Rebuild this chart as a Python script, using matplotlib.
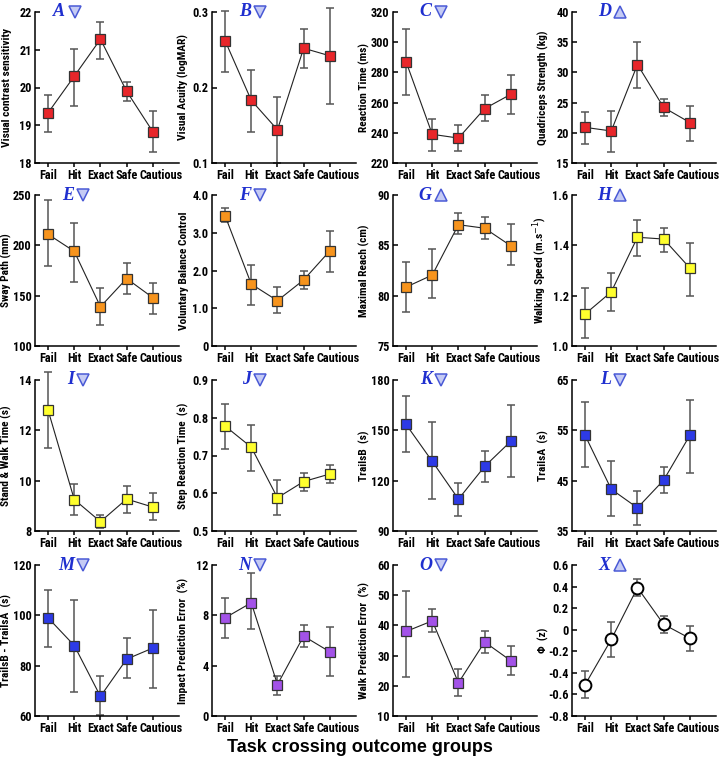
import numpy as np
import matplotlib
matplotlib.use('Agg')
import matplotlib.pyplot as plt
import matplotlib.transforms as mtransforms
from matplotlib import font_manager

# narrow bold sans, if installed
nazwy = {f.name for f in font_manager.fontManager.ttflist}
if 'Roboto Condensed' in nazwy:
    tekst_font, rozmiar = 'Roboto Condensed', 8.2
else:
    tekst_font, rozmiar = 'Liberation Sans', 7
plt.rcParams['font.family'] = [tekst_font, 'DejaVu Sans']

grupy = ['Fail', 'Hit', 'Exact', 'Safe', 'Cautious']

# panel letters, direction of triangle, y labels
litery = ['A', 'B', 'C', 'D', 'E', 'F', 'G', 'H', 'I', 'J', 'K', 'L', 'M', 'N', 'O', 'X']
kierunek = ['v', 'v', 'v', '^', 'v', 'v', '^', '^', 'v', 'v', 'v', 'v', 'v', 'v', 'v', '^']
etykiety_y = ['Visual contrast sensitivity', 'Visual Acuity (logMAR)', 'Reaction Time (ms)',
              'Quadriceps Strength (kg)', 'Sway Path (mm)', 'Voluntary Balance Control',
              'Maximal Reach (cm)', 'Walking Speed (m.s$^{-1}$)', 'Stand & Walk Time (s)',
              'Step Reaction Time  (s)', 'TrailsB  (s)', 'TrailsA  (s)',
              'TrailsB - TrailsA  (s)', 'Impact Prediction Error  (%)',
              'Walk Prediction Error  (%)', '\u03a6  (z)']

# means
srednie = [
    [19.33, 20.30, 21.28, 19.90, 18.83],
    [0.262, 0.183, 0.144, 0.252, 0.242],
    [287.0, 239.0, 236.5, 256.0, 265.5],
    [20.9, 20.3, 31.3, 24.2, 21.7],
    [211, 194, 139, 167, 148],
    [3.45, 1.64, 1.20, 1.75, 2.52],
    [80.85, 82.05, 87.05, 86.7, 84.95],
    [1.127, 1.215, 1.432, 1.425, 1.31],
    [12.8, 9.25, 8.37, 9.27, 8.95],
    [0.778, 0.722, 0.588, 0.631, 0.651],
    [153.5, 131.5, 109.0, 128.5, 143.5],
    [54.0, 43.3, 39.6, 45.1, 54.0],
    [99.0, 88.0, 67.8, 82.6, 87.0],
    [7.8, 9.0, 2.5, 6.35, 5.1],
    [38.0, 41.5, 21.0, 34.5, 28.3],
    [-0.51, -0.09, 0.39, 0.05, -0.08],
]
# lower / upper ends of the error bars
dolne = [
    [18.83, 19.50, 20.76, 19.65, 18.28],
    [0.221, 0.141, 0.100, 0.226, 0.178],
    [265.0, 228.0, 228.0, 247.5, 252.5],
    [18.2, 16.8, 27.5, 22.8, 18.6],
    [179, 164, 121, 152, 132],
    [3.28, 1.08, 0.88, 1.50, 1.96],
    [78.4, 79.8, 86.1, 85.6, 83.0],
    [1.03, 1.14, 1.357, 1.375, 1.20],
    [11.3, 8.65, 8.10, 8.70, 8.45],
    [0.718, 0.660, 0.543, 0.607, 0.627],
    [137.0, 109.0, 99.0, 119.5, 122.0],
    [47.7, 38.0, 36.2, 42.6, 46.6],
    [87.5, 69.5, 60.5, 75.0, 71.0],
    [6.2, 6.9, 1.7, 5.5, 3.2],
    [23.0, 37.7, 16.6, 31.0, 23.5],
    [-0.63, -0.25, 0.31, -0.03, -0.20],
]
gorne = [
    [19.80, 21.02, 21.73, 20.15, 19.38],
    [0.301, 0.223, 0.188, 0.278, 0.305],
    [309.0, 249.0, 245.0, 265.0, 278.5],
    [23.4, 23.6, 35.0, 25.6, 24.4],
    [245, 222, 158, 182, 163],
    [3.66, 2.14, 1.55, 2.00, 3.05],
    [83.3, 84.6, 88.2, 87.8, 87.15],
    [1.23, 1.29, 1.50, 1.468, 1.41],
    [14.3, 9.85, 8.65, 9.78, 9.50],
    [0.836, 0.782, 0.636, 0.654, 0.675],
    [170.5, 155.0, 118.5, 137.5, 165.0],
    [60.7, 49.0, 43.0, 47.7, 61.0],
    [110.0, 106.0, 75.7, 90.8, 102.0],
    [9.4, 11.4, 3.2, 7.2, 7.05],
    [51.5, 45.3, 25.4, 38.0, 33.3],
    [-0.38, 0.07, 0.47, 0.13, 0.03],
]

# y ticks
ticki_y = [
    [18, 19, 20, 21, 22],
    [0.1, 0.2, 0.3],
    [220, 240, 260, 280, 300, 320],
    [15, 20, 25, 30, 35, 40],
    [100, 150, 200, 250],
    [0, 1, 2, 3, 4],
    [75, 80, 85, 90],
    [1.0, 1.2, 1.4, 1.6],
    [8, 10, 12, 14],
    [0.5, 0.6, 0.7, 0.8, 0.9],
    [90, 120, 150, 180],
    [35, 45, 55, 65],
    [60, 80, 100, 120],
    [0, 4, 8, 12],
    [10, 20, 30, 40, 50, 60],
    [-0.8, -0.6, -0.4, -0.2, 0, 0.2, 0.4, 0.6],
]
opisy_y = [
    None, ['0.1', '0.2', '0.3'], None, None, None,
    ['0', '1.0', '2.0', '3.0', '4.0'], None, ['1.0', '1.2', '1.4', '1.6'],
    None, ['0.5', '0.6', '0.7', '0.8', '0.9'], None, None, None, None, None,
    ['-0.8', '-0.6', '-0.4', '-0.2', '0', '0.2', '0.4', '0.6'],
]

kolory = ['#e8262a'] * 4 + ['#f7941d'] * 3 + ['#ffff2e'] * 3 + ['#2d3ae6'] * 3 + ['#a352e8'] * 3
kolory[15] = 'white'

fig = plt.figure(figsize=(7.2, 7.62), dpi=100)
W, H = 720.0, 762.0
lewe = [35, 212, 393, 572]
dolne_px = [163, 346, 531, 716]
wysokosc = 151
szerokosc = 144

# "Cautious" label sits a bit right of its tick
przesun = mtransforms.ScaledTranslation(6 / 72, 0, fig.dpi_scale_trans)

x = np.arange(len(grupy))
for i in range(16):
    r, c = divmod(i, 4)
    ax = fig.add_axes([lewe[c] / W, 1 - dolne_px[r] / H, szerokosc / W, wysokosc / H])
    m = np.array(srednie[i])
    bl = [m - np.array(dolne[i]), np.array(gorne[i]) - m]
    ax.errorbar(x, m, yerr=bl, fmt='none', ecolor='#555555', elinewidth=1.1,
                capsize=3, capthick=1.1, zorder=2, clip_on=False)
    ax.plot(x, m, color='#222222', lw=0.8, zorder=3, clip_on=False)
    if i == 15:
        ax.plot(x, m, 'o', ms=8.5, mfc='white', mec='black', mew=1.4, zorder=4, clip_on=False)
    else:
        ax.plot(x, m, 's', ms=7, mfc=kolory[i], mec='#333333', mew=0.9, zorder=4, clip_on=False)

    t = ticki_y[i]
    ax.set_ylim(t[0], t[-1])
    ax.set_yticks(t)
    if opisy_y[i] is not None:
        ax.set_yticklabels(opisy_y[i])
    ax.set_xlim(-0.5, 5.0)
    ax.set_xticks(x)
    ax.set_xticklabels(grupy)
    for s in ['top', 'right']:
        ax.spines[s].set_visible(False)
    for s in ['left', 'bottom']:
        ax.spines[s].set_linewidth(1.1)
    ax.tick_params(axis='x', direction='out', length=3, width=1.1, pad=1,
                   labelsize=rozmiar + 0.6)
    ax.tick_params(axis='y', direction='in', length=3.5, width=1.1, pad=2.5,
                   labelsize=rozmiar + 0.6)
    for lab in ax.get_xticklabels() + ax.get_yticklabels():
        lab.set_fontweight('bold')
    ostatni = ax.get_xticklabels()[-1]
    ostatni.set_transform(ostatni.get_transform() + przesun)
    ax.set_ylabel(etykiety_y[i], fontsize=rozmiar, fontweight='bold')
    ax.yaxis.set_label_coords(-0.16, 0.5)

    # panel letter and triangle
    px = 0.21 if i == 0 else 0.27
    ax.text(px, 1.0, litery[i], transform=ax.transAxes, ha='right', va='center',
            fontsize=13, fontweight='bold', fontstyle='italic',
            family=['Liberation Serif', 'DejaVu Serif'], color='#1f2fcf', zorder=5)
    ax.plot(px + 0.065, 1.0, marker=kierunek[i], ms=8.5, mfc='#c5cbf4', mec='#4a5ad6', mew=1.1,
            transform=ax.transAxes, clip_on=False, zorder=5)

fig.text(0.5, 1 - 748 / H, 'Task crossing outcome groups', ha='center', va='center',
         fontsize=13, fontweight='bold', family=['Liberation Sans', 'DejaVu Sans'])

fig.savefig('out.png', dpi=100)
